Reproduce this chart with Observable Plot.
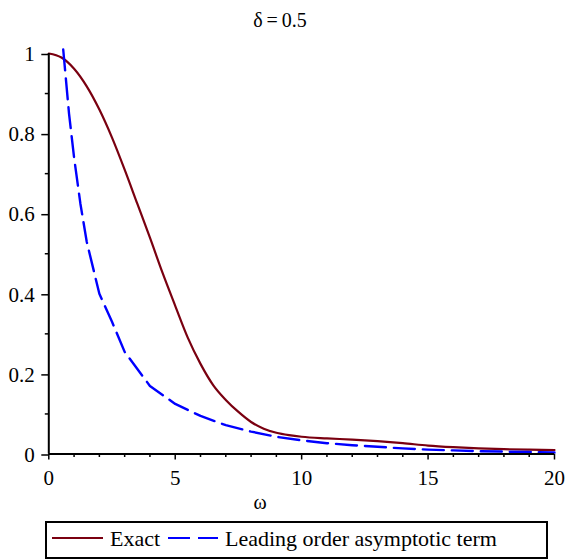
<!DOCTYPE html>
<html><head><meta charset="utf-8">
<script src="https://cdn.jsdelivr.net/npm/d3@7"></script>
<script src="https://cdn.jsdelivr.net/npm/@observablehq/plot@0.6"></script>
<style>
body{margin:0;background:#fff;}
#wrap{position:relative;width:566px;height:559px;font-family:"Liberation Serif","Times New Roman",Times,"DejaVu Serif",serif;color:#000;overflow:hidden;}
.t{position:absolute;line-height:1;white-space:nowrap;}
#chart{position:absolute;left:0;top:0;}
#chart svg text{font-family:"Liberation Serif","Times New Roman",Times,"DejaVu Serif",serif;}
</style></head><body><div id="wrap"><div id="chart"></div></div>
<script>
const exactW = [0,0.5,1,1.5,2,2.5,3,3.5,4,4.5,5,5.5,6,6.5,7,7.5,8,8.5,9,9.5,10,11,12,13,14,15,16,17,18,19,20];
const exactV = [1.0,0.99,0.962,0.918,0.86,0.79,0.71,0.625,0.54,0.452,0.37,0.29,0.225,0.172,0.135,0.105,0.08,0.063,0.053,0.047,0.043,0.039,0.036,0.032,0.027,0.021,0.017,0.014,0.012,0.011,0.010];
const asymW = [0.57,0.8,1.0,1.25,1.5,2.0,2.5,3.0,4.0,5.0,6.0,7.0,8.0,9.0,10,11,12,13,14,15,16,17,18,19,20];
const asymV = [1.01,0.85,0.74,0.625,0.53,0.40,0.33,0.255,0.17,0.125,0.095,0.072,0.056,0.043,0.034,0.027,0.022,0.018,0.014,0.011,0.009,0.007,0.006,0.005,0.004];
const xMajor = [0,5,10,15,20];
const xMinor = [1,2,3,4,6,7,8,9,11,12,13,14,16,17,18,19];
const yMajor = [0,0.2,0.4,0.6,0.8,1];
const yMinor = [0.1,0.3,0.5,0.7,0.9];
const titleText = "δ\u2009=\u20090.5";
const xLabelText = "ω";
const seriesNames = ["Exact","Leading order asymptotic term"];
const colors = ["#7a0010","#0000ff"];

const exact = exactW.map((w,i)=>({w, v: exactV[i]}));
const asym = asymW.map((w,i)=>({w, v: asymV[i]}));

const serif = "'Liberation Serif', 'Times New Roman', Times, 'DejaVu Serif', serif";
const chart = Plot.plot({
  width:566, height:515,
  marginTop:53, marginLeft:48.3, marginRight:12, marginBottom:61.5,
  x:{domain:[0,20]}, y:{domain:[0,1]},
  style:{fontFamily:serif, fontSize:"21px", color:"#000", background:"transparent", overflow:"visible"},
  marks:[
    Plot.axisX(xMinor,{tickSize:3.5, tickFormat:()=>"", strokeWidth:1.5, label:null}),
    Plot.axisX(xMajor,{tickSize:6, tickPadding:10, tickFormat:d=>String(d), strokeWidth:1.5, label:null}),
    Plot.axisY(yMinor,{tickSize:3.5, tickFormat:()=>"", strokeWidth:1.5, label:null}),
    Plot.axisY(yMajor,{tickSize:7, tickPadding:7, tickFormat:d=>String(d), strokeWidth:1.5, label:null, dy:1}),
    Plot.line(exact,{x:"w", y:"v", stroke:colors[0], strokeWidth:2.2, curve:"monotone-x"}),
    Plot.line(asym,{x:"w", y:"v", stroke:colors[1], strokeWidth:2.4, strokeDasharray:"21,8"}),
    Plot.ruleX([0],{strokeWidth:2}),
    Plot.ruleY([0],{strokeWidth:2})
  ]
});
document.getElementById("chart").appendChild(chart);

const wrap = document.getElementById("wrap");
function addText(txt, css){ const d=document.createElement("div"); d.className="t"; d.textContent=txt; Object.assign(d.style, css); wrap.appendChild(d); return d; }
addText(titleText,{left:"0px", width:"560px", textAlign:"center", top:"10px", fontSize:"20px"});
addText(xLabelText,{left:"160px", width:"200px", textAlign:"center", top:"492px", fontSize:"20px"});

const box=document.createElement("div");
Object.assign(box.style,{position:"absolute", left:"45px", top:"521px", width:"503px", height:"38px", border:"2px solid #000", boxSizing:"border-box"});
wrap.appendChild(box);
function seg(l,w,c){ const s=document.createElement("div"); Object.assign(s.style,{position:"absolute", left:l+"px", top:"536.5px", width:w+"px", height:"2px", background:c}); wrap.appendChild(s); }
seg(51.7,51,colors[0]);
seg(168,21.7,colors[1]);
seg(197.7,20.3,colors[1]);
addText(seriesNames[0],{left:"110px", top:"528.3px", fontSize:"22px"});
addText(seriesNames[1],{left:"225px", top:"528.3px", fontSize:"22px"});
</script>
</body></html>
